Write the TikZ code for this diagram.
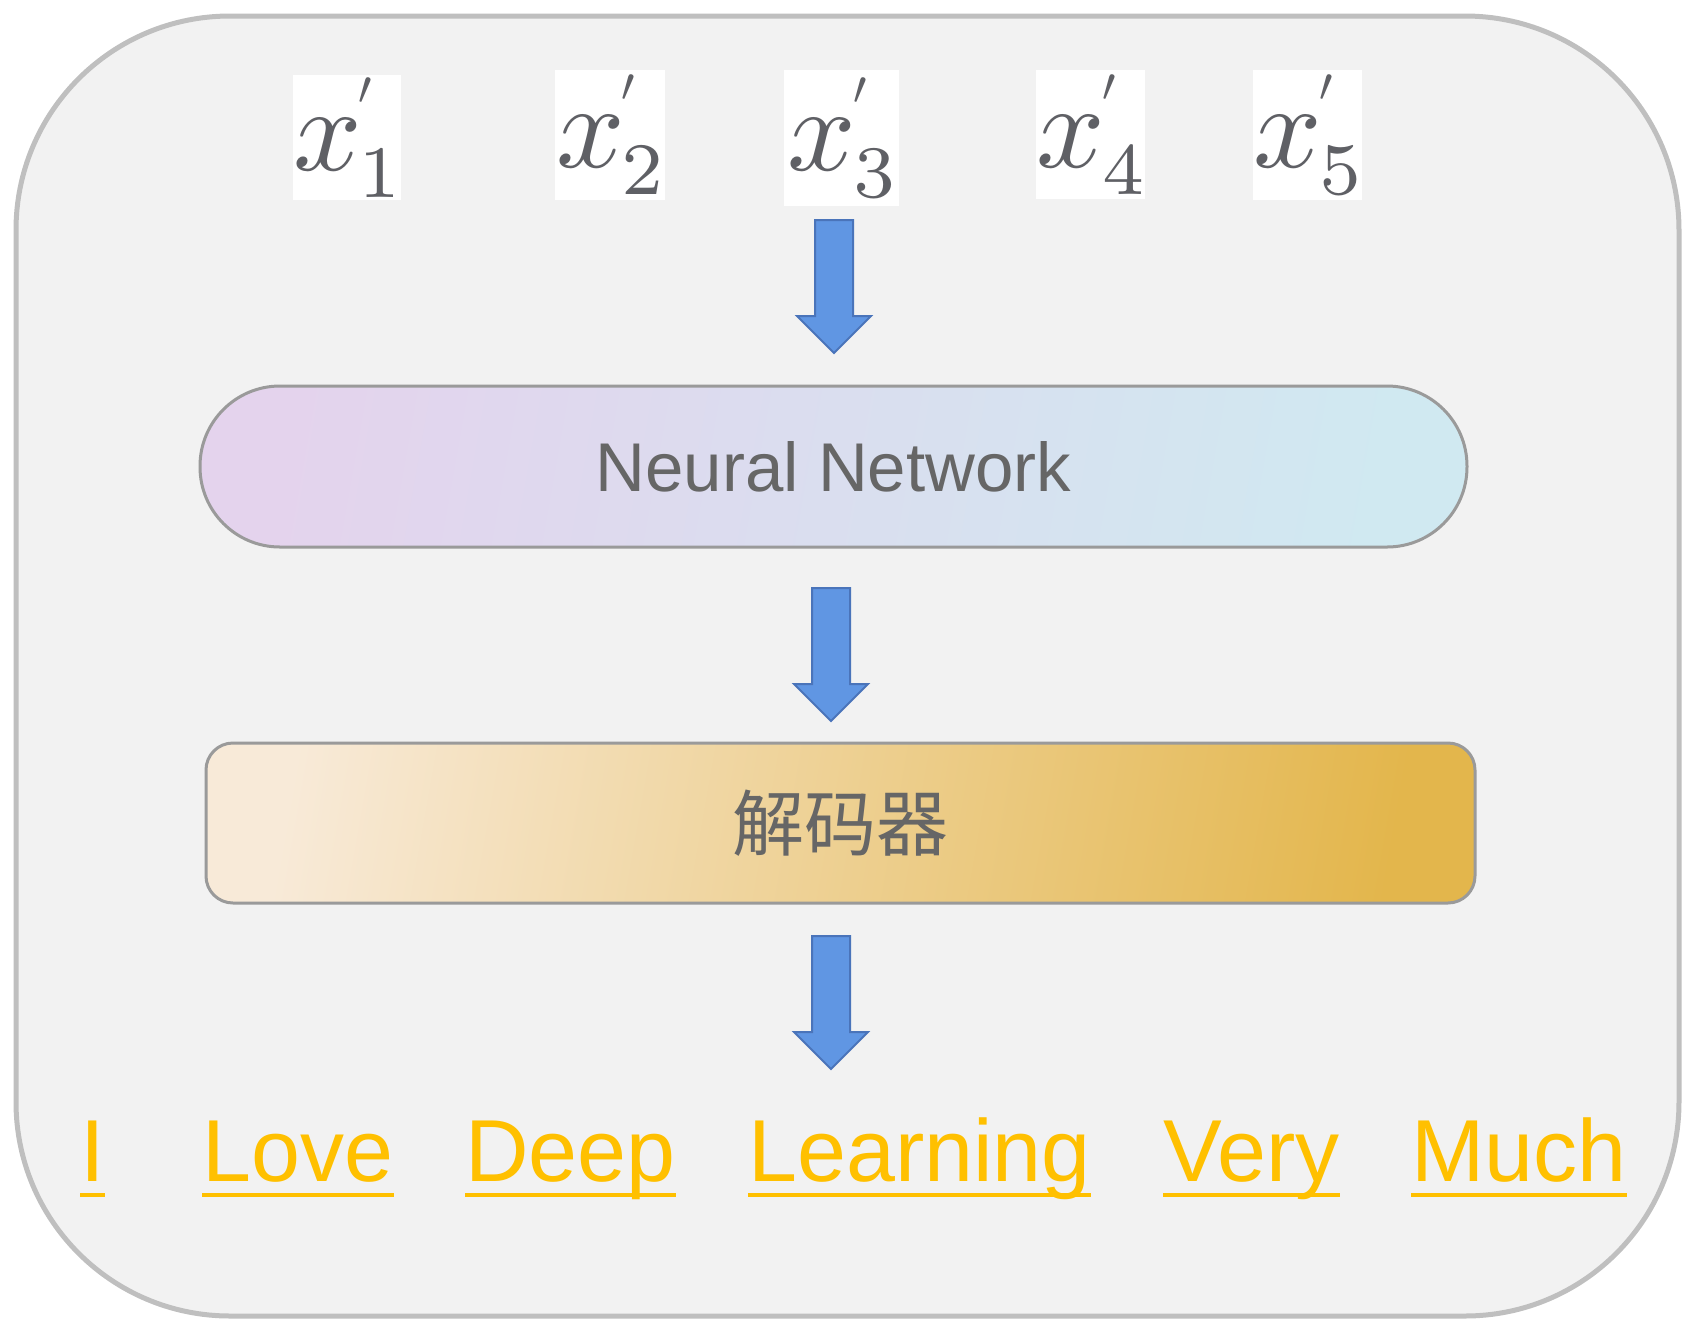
\RequirePackage{fix-cm}
\documentclass[tikz,border=0pt]{standalone}
\usepackage{fontspec}
\newfontfamily\sansfont{Liberation Sans}
\newfontfamily\cjkfont{Noto Sans CJK SC}
\usetikzlibrary{positioning}

\font\xfont=cmmi10 at 60pt
\font\subfont=cmr7 at 37pt
\font\primefont=cmsy10 at 24pt
\newcommand\xprime[1]{{\xfont x}\kern-1.5pt%
  \rlap{\raisebox{33pt}{\primefont\char"30}}%
  \raisebox{-13.5pt}{\subfont #1}}

\definecolor{framegray}{HTML}{BFBFBF}
\definecolor{framefill}{HTML}{F2F2F2}
\definecolor{boxedge}{HTML}{9A9A9A}
\definecolor{textgray}{HTML}{666666}
\definecolor{mathgray}{HTML}{5F6065}
\definecolor{nnleft}{HTML}{E4D3ED}
\definecolor{nnright}{HTML}{D0E9F1}
\definecolor{decleft}{HTML}{F8EAD8}
\definecolor{decmid}{HTML}{F2D9A6}
\definecolor{decright}{HTML}{E3B64C}
\definecolor{arrowfill}{HTML}{6096E3}
\definecolor{arrowedge}{HTML}{4A74BA}
\definecolor{wordgold}{HTML}{FFC000}

\tikzset{
  xlabel/.style={fill=white, inner sep=0pt, text=mathgray},
  word/.style={anchor=base west, inner sep=0pt, text=wordgold,
    font=\sansfont\fontsize{44}{52}\selectfont},
  uline/.style={wordgold, line width=2pt},
  downarrow/.pic={
    \draw[fill=arrowfill, draw=arrowedge, line width=1pt, line join=miter]
      (-19,0) -- (19,0) -- (19,96) -- (37,96) -- (0,133) -- (-37,96)
      -- (-19,96) -- cycle;
  }
}

\begin{document}
\begin{tikzpicture}[x=0.5pt, y=-0.5pt]
\useasboundingbox (0,0) rectangle (1694,1335);
\draw[framegray, fill=framefill, line width=2.5pt, rounded corners=107pt]
  (16,16) rectangle (1679,1316);

% inputs
\foreach \i/\x/\y/\w/\h in {1/347/137.5/106/125, 2/610/135/110/130,
    3/841.5/138/115/136, 4/1090.5/134.5/109/129, 5/1307.5/135/109/130} {
  \node[xlabel, minimum width=\w*0.5pt, minimum height=\h*0.5pt]
    (x\i) at (\x,\y) {\xprime{\i}};
}

\pic at (834,220) {downarrow};

\node[draw=boxedge, line width=1.5pt, rounded corners=40pt,
  left color=nnleft, right color=nnright, shading angle=80,
  minimum width=633.5pt, minimum height=80.5pt,
  text=textgray, font=\sansfont\fontsize{34.5}{40}\selectfont]
  (nn) at (833.5,466.5) {Neural Network};

\pic at (831,588) {downarrow};

\node[draw=boxedge, line width=1.5pt, rounded corners=13.5pt,
  left color=decleft, middle color=decmid, right color=decright,
  shading angle=80, minimum width=634.5pt, minimum height=80pt,
  text=textgray, font=\cjkfont\fontsize{36}{42}\selectfont]
  (dec) at (840.5,823) {解码器};

\pic at (831,936) {downarrow};

% outputs
\foreach \t/\x [count=\i] in {I/80, Love/202, Deep/465, Learning/748,
    Very/1163, Much/1411} {
  \node[word] (w\i) at (\x,1181) {\t};
  \draw[uline] ([yshift=-7pt]w\i.base west) -- ([yshift=-7pt]w\i.base east);
}
\end{tikzpicture}
\end{document}
